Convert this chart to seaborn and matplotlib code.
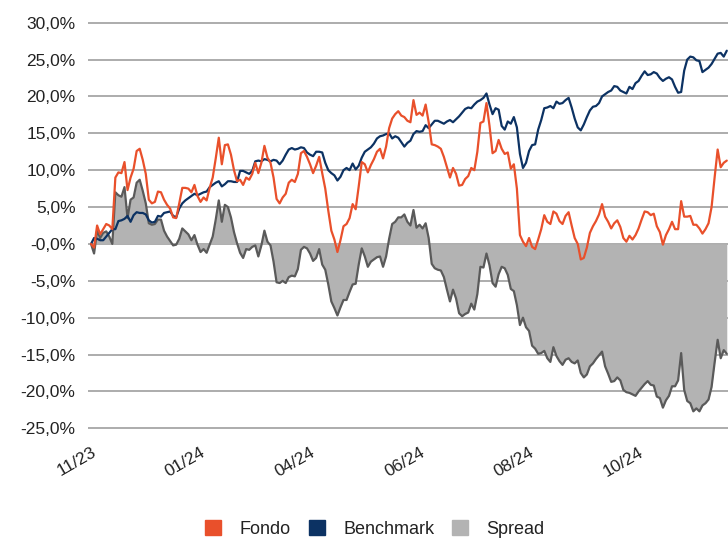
import numpy as np
import pandas as pd
import seaborn as sns
import matplotlib.pyplot as plt
from matplotlib.patches import Patch

# performance since 11/23, in %
fondo = [
    0.0, -0.5, 2.5, 1.3, 2.0, 2.7, 2.5, 2.0, 9.0, 9.7,
    9.6, 11.1, 7.3, 9.0, 10.2, 12.6, 12.9, 11.4, 9.5, 6.0,
    5.5, 5.7, 7.1, 7.0, 6.0, 5.3, 4.8, 3.6, 3.5, 5.5,
    7.6, 7.6, 7.5, 7.0, 8.0, 6.5, 5.7, 6.3, 5.9, 7.6,
    9.0, 11.6, 14.4, 10.8, 13.4, 13.5, 12.1, 10.0, 8.5, 8.7,
    8.0, 9.0, 8.7, 9.5, 11.0, 9.6, 11.0, 13.3, 11.7, 11.0,
    9.0, 6.1, 5.5, 6.3, 6.8, 8.3, 8.7, 8.4, 9.5, 12.3,
    12.6, 11.8, 10.8, 9.6, 10.6, 11.8, 9.6, 7.5, 4.5, 1.8,
    0.6, -1.1, 0.5, 2.4, 2.7, 3.5, 5.4, 4.7, 7.8, 11.1,
    10.8, 9.7, 10.7, 11.5, 12.5, 12.9, 11.6, 13.2, 15.7, 17.0,
    17.6, 18.0, 17.4, 17.2, 16.7, 16.5, 19.5, 17.5, 17.8, 17.4,
    18.9, 16.5, 13.5, 13.4, 13.2, 12.9, 11.8, 10.4, 9.0, 10.3,
    9.5, 7.9, 8.0, 8.8, 9.2, 10.3, 10.0, 12.5, 16.4, 16.6,
    19.1, 16.0, 12.3, 12.6, 14.1, 12.9, 12.2, 12.4, 10.2, 10.8,
    7.5, 1.2, 0.3, -0.3, 0.8, -0.4, -0.7, 0.6, 2.0, 3.9,
    3.0, 2.7, 4.4, 4.1, 3.1, 2.7, 3.8, 4.3, 2.5, 0.8,
    0.0, -2.1, -1.9, -0.5, 1.5, 2.4, 3.1, 4.0, 5.4, 3.7,
    3.0, 2.1, 2.8, 3.2, 2.3, 0.8, 0.3, 1.1, 0.6, 1.2,
    2.1, 3.3, 4.4, 4.3, 3.9, 4.1, 2.4, 1.6, -0.1, 1.2,
    2.0, 3.0, 2.0, 2.0, 5.8, 3.7, 3.7, 3.8, 2.6, 2.6,
    2.1, 1.4, 2.0, 2.8, 5.0, 9.0, 12.8, 10.4, 11.0, 11.3,
]
benchmark = [
    0.0, 0.8, 0.7, 0.5, 0.5, 1.0, 1.5, 2.0, 2.0, 3.1,
    3.2, 3.4, 3.8, 3.0, 3.9, 4.3, 4.2, 4.2, 4.0, 3.2,
    2.9, 3.0, 3.8, 3.7, 4.2, 4.3, 4.4, 3.8, 3.6, 4.8,
    5.5, 5.9, 6.2, 6.5, 6.8, 6.6, 6.8, 7.0, 7.1, 7.7,
    8.0, 8.3, 8.5, 7.8, 8.1, 8.5, 8.5, 8.4, 8.4, 9.9,
    9.9, 9.7, 9.5, 9.9, 11.2, 11.3, 11.2, 11.5, 11.4, 11.2,
    11.4, 11.3, 10.8, 11.3, 12.1, 12.8, 13.0, 12.8, 12.9, 13.1,
    13.0, 12.4, 12.1, 11.9, 12.5, 12.5, 12.4, 11.0, 10.0, 9.6,
    9.3, 8.6, 9.1, 10.0, 10.3, 10.0, 10.9, 10.1, 10.6, 11.7,
    12.5, 12.8, 13.1, 13.6, 14.3, 14.6, 14.7, 14.9, 15.0, 14.3,
    14.6, 14.4, 13.8, 13.2, 13.7, 14.0, 14.9, 15.3, 15.2, 15.3,
    16.1, 15.7, 16.2, 16.7, 16.7, 16.5, 16.3, 16.6, 16.8, 16.5,
    16.9, 17.3, 17.8, 18.3, 18.5, 18.4, 18.9, 19.3, 19.5, 19.8,
    20.4, 18.9, 17.6, 18.4, 18.2, 16.0, 15.5, 16.6, 16.3, 17.2,
    15.8, 12.2, 10.3, 11.0, 12.6, 13.4, 13.5, 15.5, 16.8, 18.4,
    18.5, 18.7, 18.4, 19.3, 19.0, 19.1, 19.5, 19.8, 18.5, 17.0,
    15.8, 15.4, 16.2, 17.2, 18.1, 18.6, 18.7, 19.1, 20.0, 20.3,
    20.6, 20.8, 21.4, 21.3, 20.8, 20.6, 20.4, 21.3, 21.0, 21.8,
    22.1, 22.8, 23.4, 22.9, 23.0, 23.3, 23.1, 22.5, 22.1, 22.4,
    22.6, 22.3, 21.3, 20.5, 20.6, 23.5, 25.0, 25.4, 25.3, 24.9,
    24.8, 23.3, 23.6, 23.9, 24.4, 25.1, 25.8, 25.9, 25.4, 26.2,
]
x_labels = ["11/23", "01/24", "04/24", "06/24", "08/24", "10/24"]
label_step = 36
y_ticks = [-25, -20, -15, -10, -5, 0, 5, 10, 15, 20, 25, 30]
y_labels = ["-25,0%", "-20,0%", "-15,0%", "-10,0%", "-5,0%", "-0,0%",
            "5,0%", "10,0%", "15,0%", "20,0%", "25,0%", "30,0%"]

c_fondo = "#e9502b"
c_bench = "#0c3263"
c_spread = "#b3b3b3"

df = pd.DataFrame({"idx": np.arange(len(fondo)), "Fondo": fondo, "Benchmark": benchmark})
df["Spread"] = df["Fondo"] - df["Benchmark"]

sns.set_style("white")
plt.rcParams["font.family"] = ["Liberation Sans", "DejaVu Sans"]

fig = plt.figure(figsize=(7.28, 5.41), dpi=100)
ax = fig.add_axes([0.1209, 0.2015, 0.8791, 0.7634])

ax.fill_between(df["idx"], 0, df["Spread"], color=c_spread, lw=0, zorder=2)
sns.lineplot(data=df, x="idx", y="Spread", ax=ax, color="#5a5a5a", lw=1.6, zorder=3)
sns.lineplot(data=df, x="idx", y="Benchmark", ax=ax, color=c_bench, lw=1.6, zorder=4)
sns.lineplot(data=df, x="idx", y="Fondo", ax=ax, color=c_fondo, lw=1.6, zorder=5)

ax.set_xlim(-0.99, 209.4)
ax.set_ylim(-25.5, 30.5)
ax.set_yticks(y_ticks, y_labels)
ax.set_xticks(np.arange(len(x_labels)) * label_step, x_labels,
              rotation=30, ha="right", rotation_mode="anchor")
ax.yaxis.grid(True, color="#a6a6a6", lw=1.3)
ax.xaxis.grid(False)
ax.set_axisbelow(True)
ax.tick_params(length=0, labelsize=12.5, colors="#222222")
ax.tick_params(axis="y", pad=9)
ax.tick_params(axis="x", pad=9)
ax.set_xlabel("")
ax.set_ylabel("")
sns.despine(ax=ax, left=True, bottom=True)

handles = [Patch(color=c_fondo, label="Fondo"),
           Patch(color=c_bench, label="Benchmark"),
           Patch(color=c_spread, label="Spread")]
fig.legend(handles=handles, loc="lower center", bbox_to_anchor=(0.515, -0.024),
           ncol=3, frameon=False, fontsize=13, handlelength=0.9, handleheight=0.95,
           handletextpad=1.0, columnspacing=1.0, labelcolor="#222222")

fig.savefig("out.png", dpi=100)
